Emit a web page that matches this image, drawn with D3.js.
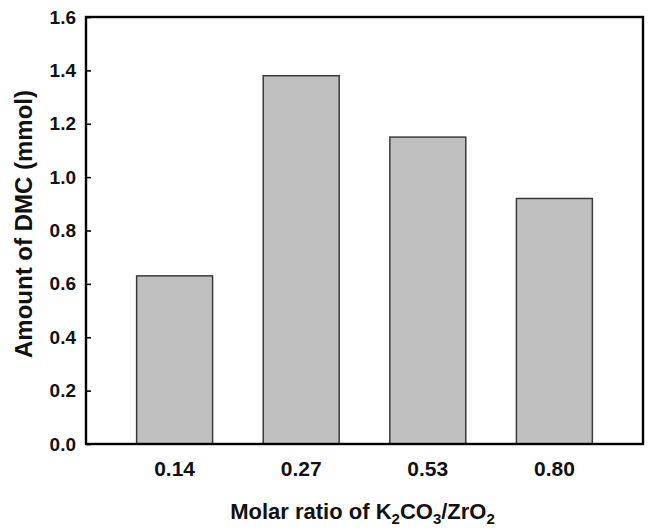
<!DOCTYPE html>
<html>
<head>
<meta charset="utf-8">
<script src="https://cdn.jsdelivr.net/npm/d3@7"></script>
<style>
  body { margin: 0; background: #fff; }
  text { font-family: "Liberation Sans", Arial, sans-serif; font-weight: bold; fill: #111; }
</style>
</head>
<body>
<script>
// data
const ratios = ["0.14", "0.27", "0.53", "0.80"]
const dmc = [0.63, 1.38, 1.15, 0.92]
const yTicks = [0, 0.2, 0.4, 0.6, 0.8, 1.0, 1.2, 1.4, 1.6]

const width = 649
const height = 530
const margin = {top: 17, right: 6, bottom: 86, left: 86}
const innerW = width - margin.left - margin.right
const innerH = height - margin.top - margin.bottom

const svg = d3.select("body").append("svg")
    .attr("width", width)
    .attr("height", height)

const g = svg.append("g")
    .attr("transform", `translate(${margin.left},${margin.top})`)

const x = d3.scaleBand()
    .domain(ratios)
    .range([0, innerW])
    .paddingInner(0.4)
    .paddingOuter(0.4)

const y = d3.scaleLinear()
    .domain([0, 1.6])
    .range([innerH, 0])

// bars
g.selectAll("rect.bar")
    .data(ratios)
    .enter()
    .append("rect")
    .attr("class", "bar")
    .attr("x", d => x(d))
    .attr("width", x.bandwidth())
    .attr("y", (d, i) => y(dmc[i]))
    .attr("height", (d, i) => innerH - y(dmc[i]))
    .attr("fill", "#c0c0c0")
    .attr("stroke", "#3a3a3a")
    .attr("stroke-width", 1.5)

// y axis, ticks point inward
const yAxis = g.append("g")
    .call(d3.axisLeft(y).tickValues(yTicks).tickFormat(d3.format(".1f")).tickSizeInner(-5).tickSizeOuter(0).tickPadding(10))
yAxis.select(".domain").remove()
yAxis.selectAll(".tick line").attr("stroke", "#000").attr("stroke-width", 1.6)
yAxis.selectAll(".tick text").style("font-size", "19px").attr("fill", "#111")

// x axis labels only
const xAxis = g.append("g")
    .attr("transform", `translate(0,${innerH})`)
    .call(d3.axisBottom(x).tickSize(0).tickPadding(17))
xAxis.select(".domain").remove()
xAxis.selectAll(".tick text").style("font-size", "21px").attr("fill", "#111")

// frame
g.append("rect")
    .attr("width", innerW)
    .attr("height", innerH)
    .attr("fill", "none")
    .attr("stroke", "#000")
    .attr("stroke-width", 2.4)

// axis titles
svg.append("text")
    .attr("transform", `translate(32,224) rotate(-90)`)
    .attr("text-anchor", "middle")
    .style("font-size", "24px")
    .text("Amount of DMC (mmol)")

const xt = svg.append("text")
    .attr("x", margin.left + innerW / 2 - 2)
    .attr("y", 519)
    .attr("text-anchor", "middle")
    .style("font-size", "22px")
xt.append("tspan").text("Molar ratio of K")
xt.append("tspan").attr("dy", 5).style("font-size", "15px").text("2")
xt.append("tspan").attr("dy", -5).text("CO")
xt.append("tspan").attr("dy", 5).style("font-size", "15px").text("3")
xt.append("tspan").attr("dy", -5).text("/ZrO")
xt.append("tspan").attr("dy", 5).style("font-size", "15px").text("2")
</script>
</body>
</html>
